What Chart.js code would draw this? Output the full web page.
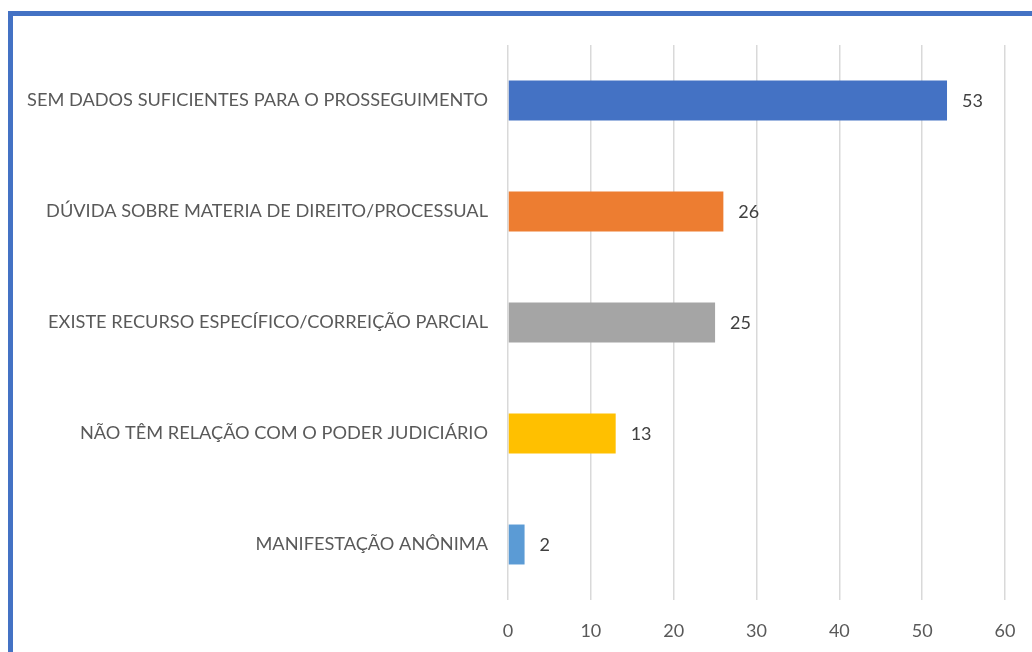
<!DOCTYPE html>
<html>
<head>
<meta charset="utf-8">
<script src="https://cdn.jsdelivr.net/npm/chart.js@4.4.0/dist/chart.umd.min.js"></script>
<style>
    html, body { margin: 0; padding: 0; background: #fff; }
    #wrap { position: relative; width: 1032px; height: 652px; overflow: hidden; }
    #frame {
        position: absolute; left: 8px; top: 11px; width: 1100px; height: 700px;
        border-top: 5px solid #4472C4; border-left: 5px solid #4472C4;
        box-sizing: border-box;
    }
    canvas { position: absolute; left: 0; top: 0; }
</style>
</head>
<body>
<div id="wrap">
    <div id="frame"></div>
    <canvas id="chart" width="1032" height="652"></canvas>
</div>
<script>
const categories = [
    'SEM DADOS SUFICIENTES PARA O PROSSEGUIMENTO',
    'DÚVIDA SOBRE MATERIA DE DIREITO/PROCESSUAL',
    'EXISTE RECURSO ESPECÍFICO/CORREIÇÃO PARCIAL',
    'NÃO TÊM RELAÇÃO COM O PODER JUDICIÁRIO',
    'MANIFESTAÇÃO ANÔNIMA'
];
const values = [53, 26, 25, 13, 2];
const barColors = ['#4472C4', '#ED7D31', '#A5A5A5', '#FFC000', '#5B9BD5'];
const xTicks = [0, 10, 20, 30, 40, 50, 60];

const fontFamily = "Lato, 'Noto Sans', sans-serif";

// draws the value next to each bar
const valueLabels = {
    id: 'valueLabels',
    afterDatasetsDraw(chart) {
        const ctx = chart.ctx;
        const meta = chart.getDatasetMeta(0);
        ctx.save();
        ctx.font = '18px ' + fontFamily;
        ctx.fillStyle = '#404040';
        ctx.textAlign = 'left';
        ctx.textBaseline = 'middle';
        meta.data.forEach((bar, i) => {
            ctx.fillText(String(values[i]), bar.x + 15, bar.y + 1);
        });
        ctx.restore();
    }
};

const ctx = document.getElementById('chart').getContext('2d');
new Chart(ctx, {
    type: 'bar',
    data: {
        labels: categories,
        datasets: [{
            data: values,
            backgroundColor: barColors,
            borderWidth: 0,
            barPercentage: 0.6,
            categoryPercentage: 0.6
        }]
    },
    options: {
        indexAxis: 'y',
        responsive: false,
        animation: false,
        layout: { padding: { top: 45, right: 27, bottom: 0, left: 0 } },
        plugins: {
            legend: { display: false },
            tooltip: { enabled: false }
        },
        scales: {
            x: {
                min: 0,
                max: 60,
                afterBuildTicks: (scale) => { scale.ticks = xTicks.map(v => ({ value: v })); },
                afterFit: (scale) => {
                    scale.height = 52;
                    scale.paddingLeft = 0;
                    scale.paddingRight = 0;
                },
                grid: { color: '#D9D9D9', lineWidth: 1.5, drawTicks: false },
                border: { display: false },
                ticks: { color: '#595959', padding: 20, font: { family: fontFamily, size: 18 } }
            },
            y: {
                afterFit: (scale) => {
                    scale.width = 508;
                    scale.paddingTop = 0;
                    scale.paddingBottom = 0;
                },
                grid: { display: false, drawTicks: false },
                border: { display: false },
                ticks: { color: '#595959', padding: 20, font: { family: fontFamily, size: 18.2 } }
            }
        }
    },
    plugins: [valueLabels]
});
</script>
</body>
</html>
